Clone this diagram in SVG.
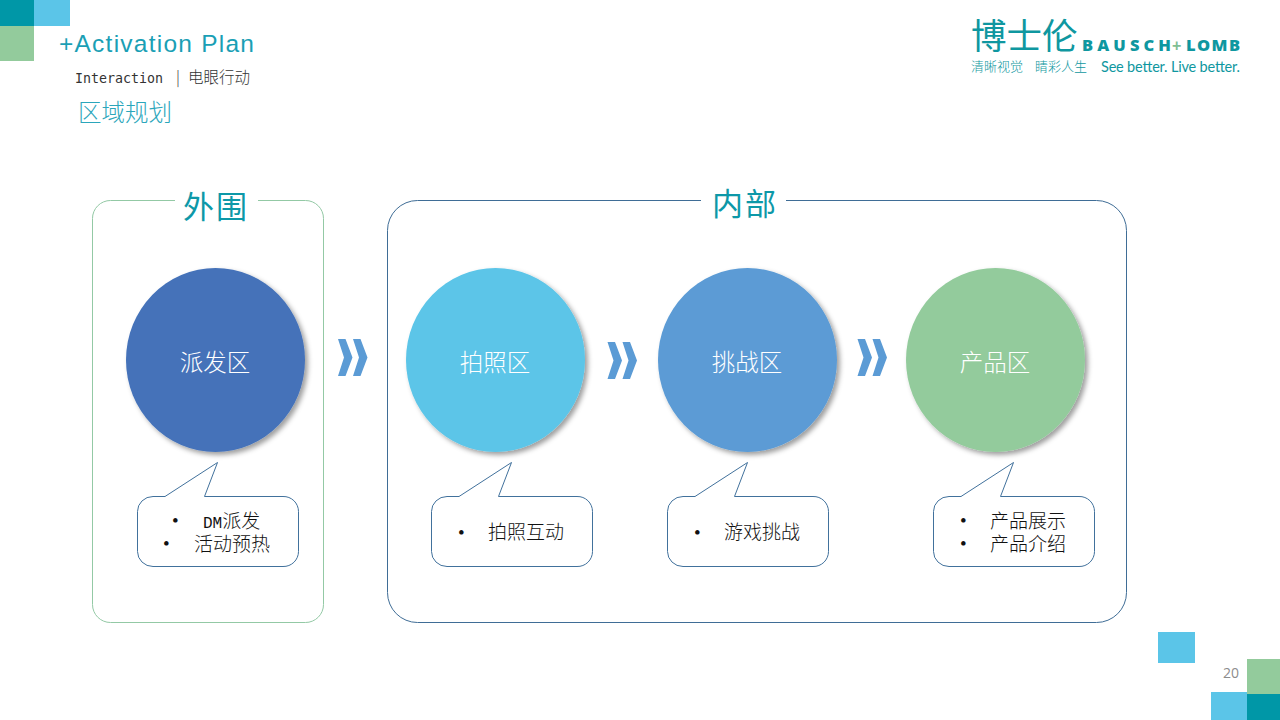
<svg xmlns="http://www.w3.org/2000/svg" width="1280" height="720" viewBox="0 0 1280 720">
<style>
text{font-family:"Liberation Sans","Noto Sans CJK SC",sans-serif}
.cjk{font-family:"Noto Sans CJK SC",sans-serif;font-weight:300}
.mono{font-family:"DejaVu Sans Mono","Liberation Mono",monospace}
.zone{fill:#fff;stroke-width:1}
.head{font-size:31px;fill:#0d98a8;text-anchor:middle;letter-spacing:2px}
.circ{filter:url(#sh)}
.clabel{font-size:23.500px;fill:#fff;text-anchor:middle}
.callout{fill:#fff;stroke:#41719c;stroke-width:1}
.note{font-size:19px;fill:#111;font-weight:300;font-family:"Liberation Serif","Noto Sans CJK SC",serif}
.chev{fill:#5b9bd5}
.teal{fill:#0097a7}.sky{fill:#5bc5e8}.green{fill:#93cb9c}
.lg{fill:#0f97a0}
.lgb{font-family:"Open Sans",sans-serif;font-weight:800;font-size:16.500px;fill:#0f97a0}
</style>
<defs>
<filter id="sh" x="-15%" y="-15%" width="130%" height="130%"><feDropShadow dx="3" dy="3" stdDeviation="2.500" flood-color="#000" flood-opacity=".38"/></filter>
<path id="ch" d="M607.500 342H615L622 360.500L615 379H607.500L613.500 360.500Z M622.500 342H630L637 360.500L630 379H622.500L628.500 360.500Z"/>
</defs>
<rect width="1280" height="720" fill="#fff"/>
<g id="decor">
<rect class="teal" x="0" y="0" width="34" height="26"/><rect class="sky" x="34" y="0" width="36" height="26"/><rect class="green" x="0" y="26" width="34" height="35"/>
<rect class="sky" x="1158" y="632" width="37" height="31"/>
<rect class="green" x="1247" y="659" width="33" height="35"/><rect class="sky" x="1211" y="692" width="36" height="28"/><rect class="teal" x="1247" y="694" width="33" height="26"/>
</g>
<g id="title">
<text x="59" y="52" font-size="24.500" fill="#1a9fb5" textLength="195">+Activation Plan</text>
<text x="75" y="83" font-size="13.300" fill="#333" class="mono">Interaction</text>
<text x="176" y="83" font-size="15.500" fill="#333" class="cjk">|</text>
<text x="188" y="83" font-size="15.500" fill="#333" class="cjk">电眼行动</text>
<text x="78" y="121" font-size="23.500" fill="#2ba6bb" class="cjk">区域规划</text>
</g>
<g id="logo">
<text x="971" y="49" font-size="35.500" class="cjk lg" style="font-weight:400">博士伦</text>
<text x="1082" y="51" class="lgb" textLength="89">BAUSCH</text>
<text x="1172" y="51" font-size="16" font-weight="700" fill="#7fbf94">+</text>
<text x="1186" y="51" class="lgb" textLength="54">LOMB</text>
<text x="971" y="71" font-size="13" class="cjk lg">清晰视觉</text>
<text x="1035" y="71" font-size="13" class="cjk lg">睛彩人生</text>
<text x="1101" y="72" font-size="14.500" class="lg" style='font-family:Lato,sans-serif' textLength="139">See better. Live better.</text>
</g>
<g id="zone-outer">
<path class="zone" stroke="#93c9a5" fill="none" d="M175 200.500H110.500A18 18 0 0 0 92.500 218.500V604.500A18 18 0 0 0 110.500 622.500H305.500A18 18 0 0 0 323.500 604.500V218.500A18 18 0 0 0 305.500 200.500H258"/>
<text class="head cjk" x="216" y="218" style="font-weight:400">外围</text>
</g>
<g id="zone-inner">
<path class="zone" stroke="#3f6d96" fill="none" d="M701 200.500H417.500A30 30 0 0 0 387.500 230.500V592.500A30 30 0 0 0 417.500 622.500H1096.500A30 30 0 0 0 1126.500 592.500V230.500A30 30 0 0 0 1096.500 200.500H786"/>
<text class="head cjk" x="745" y="215" style="font-weight:400">内部</text>
</g>
<g id="connectors">
<use href="#ch" class="chev" x="-269.500" y="-3"/>
<use href="#ch" class="chev"/>
<use href="#ch" class="chev" x="250" y="-3"/>
</g>
<g id="node-paifa">
<ellipse class="circ" cx="215.500" cy="360" rx="89.500" ry="92" fill="#4472b9"/>
<text class="clabel cjk" x="215" y="371">派发区</text>
<path class="callout" d="M153 496.500H165L217.500 462.500L204.500 496.500H283A15 15 0 0 1 298.500 511.500V551.500A15 15 0 0 1 283 566.500H153A15.500 15 0 0 1 137.500 551.500V511.500A15.500 15 0 0 1 153 496.500Z"/>
<text class="note" x="172" y="527">•</text><text class="note" x="203" y="528"><tspan font-size="16" style='font-family:"Liberation Mono",monospace'>DM</tspan>派发</text>
<text class="note" x="163" y="550">•</text><text class="note" x="194" y="551">活动预热</text>
</g>
<g id="node-paizhao">
<ellipse class="circ" cx="495.500" cy="360" rx="89.500" ry="92" fill="#5bc5e8"/>
<text class="clabel cjk" x="495" y="371">拍照区</text>
<path class="callout" d="M447 496.500H459L511.500 462.500L498.500 496.500H577A15 15 0 0 1 592.500 511.500V551.500A15 15 0 0 1 577 566.500H447A15.500 15 0 0 1 431.500 551.500V511.500A15.500 15 0 0 1 447 496.500Z"/>
<text class="note" x="458" y="539">•</text><text class="note" x="488" y="539">拍照互动</text>
</g>
<g id="node-tiaozhan">
<ellipse class="circ" cx="747.500" cy="360" rx="89.500" ry="92" fill="#5b9bd5"/>
<text class="clabel cjk" x="747" y="371">挑战区</text>
<path class="callout" d="M683 496.500H695L747.500 462.500L734.500 496.500H813A15 15 0 0 1 828.500 511.500V551.500A15 15 0 0 1 813 566.500H683A15.500 15 0 0 1 667.500 551.500V511.500A15.500 15 0 0 1 683 496.500Z"/>
<text class="note" x="694" y="539">•</text><text class="note" x="724" y="539">游戏挑战</text>
</g>
<g id="node-chanpin">
<ellipse class="circ" cx="995.500" cy="360" rx="89.500" ry="92" fill="#93cb9c"/>
<text class="clabel cjk" x="995" y="371">产品区</text>
<path class="callout" d="M949 496.500H961L1013.500 462.500L1000.500 496.500H1079A15 15 0 0 1 1094.500 511.500V551.500A15 15 0 0 1 1079 566.500H949A15.500 15 0 0 1 933.500 551.500V511.500A15.500 15 0 0 1 949 496.500Z"/>
<text class="note" x="960" y="527">•</text><text class="note" x="990" y="528">产品展示</text>
<text class="note" x="960" y="550">•</text><text class="note" x="990" y="551">产品介绍</text>
</g>
<text x="1223" y="678" font-size="14" fill="#8c8c8c" style='font-family:"Open Sans",sans-serif'>20</text>
</svg>
